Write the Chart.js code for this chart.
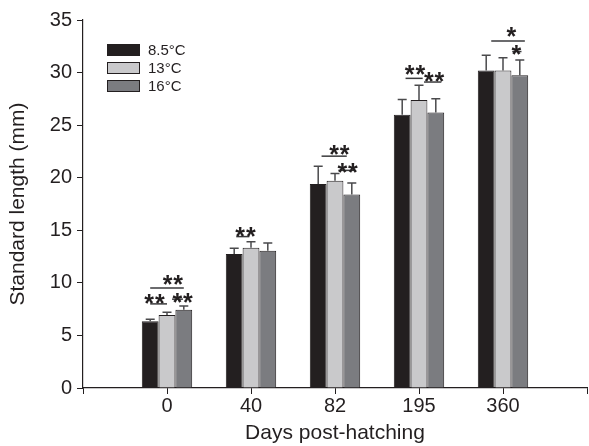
<!DOCTYPE html>
<html>
<head>
<meta charset="utf-8">
<script src="https://cdn.jsdelivr.net/npm/chart.js@4/dist/chart.umd.min.js"></script>
<style>
  html, body { margin: 0; padding: 0; background: #fff; }
  canvas { display: block; }
</style>
</head>
<body>
<canvas id="lengthChart" width="589" height="446"></canvas>
<script>
// days post-hatching
const days = ['0', '40', '82', '195', '360'];
const seriesNames = ['8.5°C', '13°C', '16°C'];

// mean standard length (mm)
const cold = [6.35, 12.75, 19.4, 26.0, 30.2];
const mid = [6.95, 13.35, 19.7, 27.4, 30.2];
const warm = [7.45, 13.05, 18.4, 26.2, 29.75];

// upper error (mm)
const coldErr = [0.2, 0.55, 1.7, 1.45, 1.45];
const midErr = [0.25, 0.55, 0.7, 1.4, 1.2];
const warmErr = [0.35, 0.75, 1.1, 1.3, 1.45];

const yTicks = [0, 5, 10, 15, 20, 25, 30, 35];

// significance marks: group, line from/to (bar index), line y, star x (bar index), star y, stars
const sigGroup = [0, 0, 0, 1, 2, 2, 3, 3, 4, 4];
const sigFrom = [0, 0, 1.3, 0.12, 0.2, 1.2, 0.2, 1.3, 0.3, 1.55];
const sigTo = [2, 1, 1.95, 0.9, 1.7, 2.2, 1.22, 2.33, 2.3, 2.1];
const sigLineY = [9.5, 8.0, 8.45, 14.4, 22.05, 20.7, 29.45, 29.1, 33.0, 32.0];
const sigStarX = [1.35, 0.26, 1.93, 0.67, 1.26, 1.75, 0.76, 1.9, 1.5, 1.8];
const sigStarY = [10.45, 8.65, 8.7, 14.95, 22.8, 21.1, 30.35, 29.75, 34.0, 32.3];
const sigStars = ['**', '**', '**', '**', '**', '**', '**', '**', '*', '*'];

const ink = '#231f20';
const fillColors = ['#231f20', '#c9c9cb', '#7b7c80'];
const font = 'Liberation Sans, Arial, sans-serif';

// empty slot at each end so the first bar group sits one step in from the axis
const labels = [''].concat(days, ['']);
const pad = arr => [null].concat(arr, [null]);
const means = [cold, mid, warm];
const errs = [coldErr, midErr, warmErr];

const errorBars = {
    id: 'errorBars',
    afterDatasetsDraw(chart) {
        const ctx = chart.ctx;
        const y = chart.scales.y;
        ctx.save();
        ctx.strokeStyle = '#4a4a4c';
        ctx.lineWidth = 1.5;
        means.forEach((vals, i) => {
            const meta = chart.getDatasetMeta(i);
            vals.forEach((v, j) => {
                const bar = meta.data[j + 1];
                const top = y.getPixelForValue(v + errs[i][j]);
                ctx.beginPath();
                ctx.moveTo(bar.x, bar.y);
                ctx.lineTo(bar.x, top);
                ctx.moveTo(bar.x - 4.5, top);
                ctx.lineTo(bar.x + 4.5, top);
                ctx.stroke();
            });
        });
        ctx.restore();
    }
};

const sigMarks = {
    id: 'sigMarks',
    afterDraw(chart) {
        const ctx = chart.ctx;
        const y = chart.scales.y;
        // x of a fractional bar index within a group
        const barX = (g, pos) => {
            const a = chart.getDatasetMeta(0).data[g + 1].x;
            const b = chart.getDatasetMeta(2).data[g + 1].x;
            return a + (b - a) * pos / 2;
        };
        const size = 25;
        ctx.save();
        ctx.strokeStyle = '#3a3a3c';
        ctx.lineWidth = 1.5;
        ctx.fillStyle = ink;
        ctx.font = 'bold ' + size + 'px ' + font;
        ctx.textAlign = 'center';
        ctx.textBaseline = 'alphabetic';
        sigGroup.forEach((g, k) => {
            const ly = y.getPixelForValue(sigLineY[k]);
            ctx.beginPath();
            ctx.moveTo(barX(g, sigFrom[k]), ly);
            ctx.lineTo(barX(g, sigTo[k]), ly);
            ctx.stroke();
            const n = sigStars[k].length;
            const cx = barX(g, sigStarX[k]);
            const cy = y.getPixelForValue(sigStarY[k]) + size * 0.58;
            for (let s = 0; s < n; s++) {
                ctx.fillText('*', cx + (s - (n - 1) / 2) * 10.7, cy);
            }
        });
        ctx.restore();
    }
};

const boxLegend = {
    id: 'boxLegend',
    afterDraw(chart) {
        const ctx = chart.ctx;
        const area = chart.chartArea;
        ctx.save();
        ctx.font = '15px ' + font;
        ctx.textBaseline = 'middle';
        ctx.textAlign = 'left';
        seriesNames.forEach((name, i) => {
            const bx = area.left + 24;
            const by = area.top + 24 + i * 18;
            ctx.fillStyle = fillColors[i];
            ctx.fillRect(bx, by, 33, 12);
            ctx.strokeStyle = ink;
            ctx.lineWidth = 1;
            ctx.strokeRect(bx + 0.5, by + 0.5, 32, 11);
            ctx.fillStyle = ink;
            ctx.fillText(name, bx + 41, by + 7);
        });
        ctx.restore();
    }
};

const ctx = document.getElementById('lengthChart').getContext('2d');
new Chart(ctx, {
    type: 'bar',
    data: {
        labels: labels,
        datasets: means.map((vals, i) => ({
            label: seriesNames[i],
            data: pad(vals),
            backgroundColor: fillColors[i],
            borderColor: ink,
            borderWidth: 1,
            categoryPercentage: 0.6,
            barPercentage: 1.0
        }))
    },
    options: {
        responsive: false,
        animation: false,
        devicePixelRatio: 1,
        layout: { padding: { top: 20, right: 2, left: 0, bottom: 0 } },
        plugins: {
            legend: { display: false },
            tooltip: { enabled: false }
        },
        scales: {
            x: {
                offset: false,
                afterFit: s => { s.height = 58; },
                grid: { offset: false, drawOnChartArea: false, tickLength: 6, color: ink, lineWidth: 1 },
                border: { color: ink, width: 1.2 },
                ticks: { color: ink, font: { family: font, size: 20 }, padding: 0, autoSkip: false, maxRotation: 0 },
                title: { display: true, text: 'Days post-hatching', color: ink, font: { family: font, size: 21 }, padding: { top: 0, bottom: 0 } }
            },
            y: {
                min: 0,
                max: 35,
                afterFit: s => { s.width = 83; },
                afterBuildTicks: s => { s.ticks = yTicks.map(v => ({ value: v })); },
                grid: { drawOnChartArea: false, tickLength: 6, color: ink, lineWidth: 1 },
                border: { color: ink, width: 1.2 },
                ticks: { color: ink, font: { family: font, size: 20 }, padding: 5 },
                title: { display: true, text: 'Standard length (mm)', color: ink, font: { family: font, size: 21 }, padding: { top: 6, bottom: 0 } }
            }
        }
    },
    plugins: [errorBars, sigMarks, boxLegend]
});
</script>
</body>
</html>
